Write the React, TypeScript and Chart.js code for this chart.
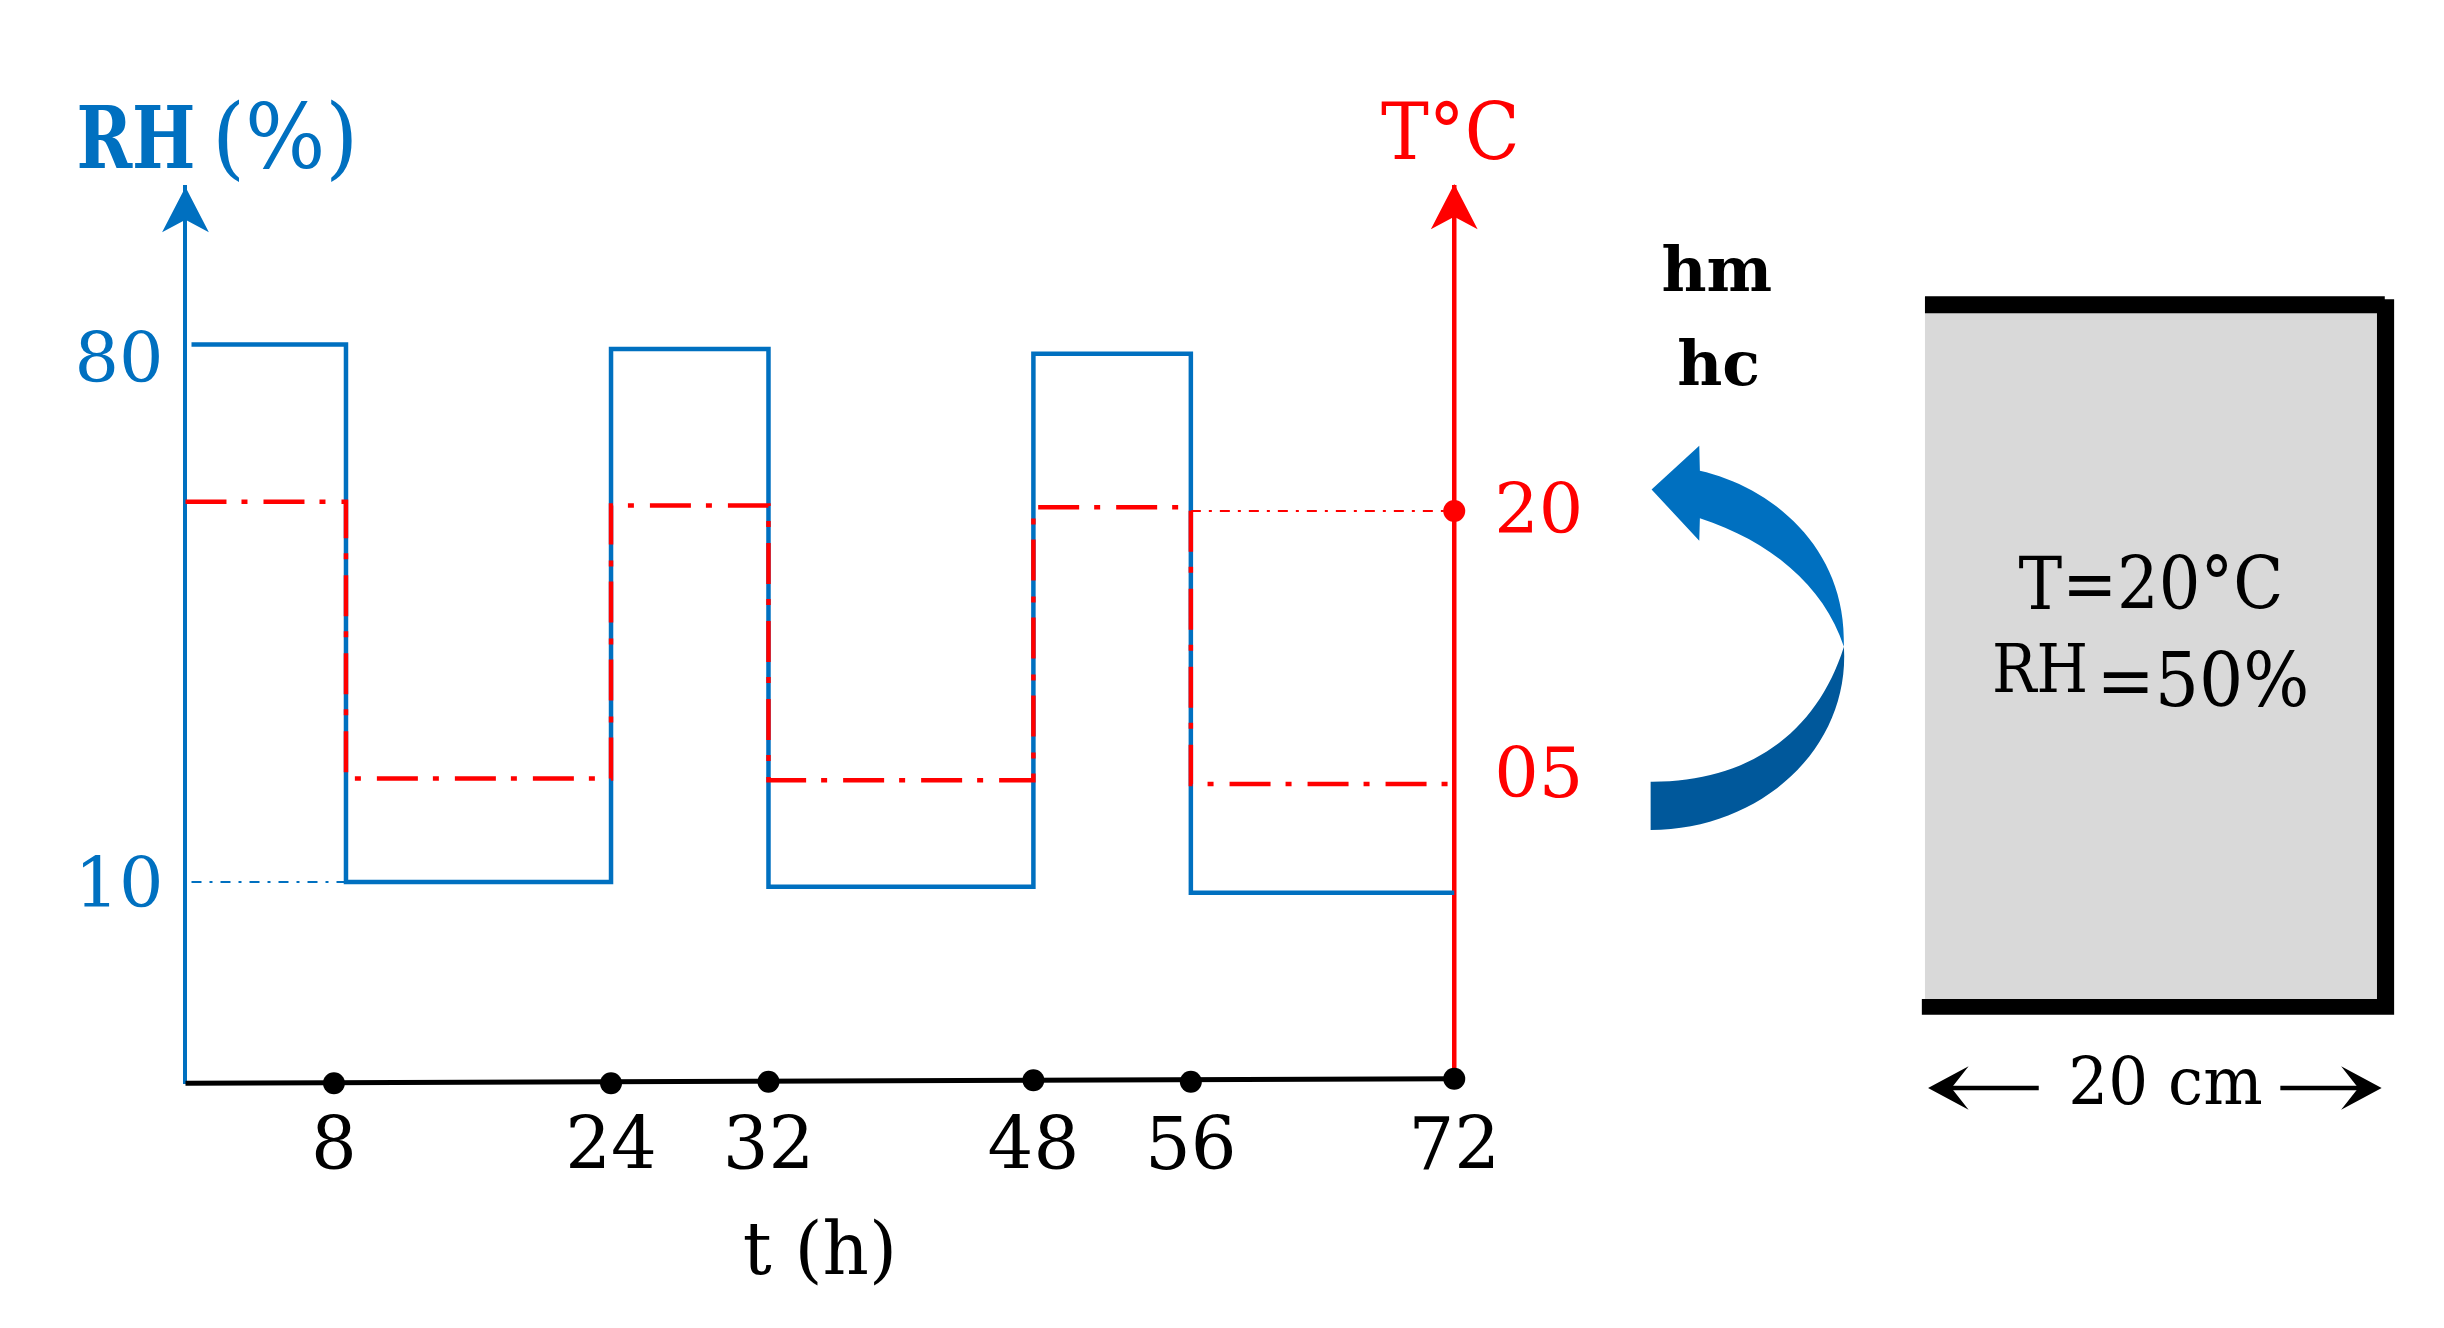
import React, { useEffect, useRef } from "react";
import { Chart, LinearScale, registerables } from "chart.js";

const rhHours = [0.3, 8, 8, 24, 24, 32, 32, 48, 48, 56, 56, 72];
const rhValues = [80, 80, 10, 10, 79.4, 79.4, 9.4, 9.4, 78.8, 78.8, 8.6, 8.6];
const tempHours = [0, 8, 8, 24, 24, 32, 32, 48, 48, 56, 56, 72];
const tempValues = [20.5, 20.5, 5.3, 5.3, 20.3, 20.3, 5.2, 5.2, 20.2, 20.2, 5, 5];

const rhGuideHours = [0.3, 8];
const rhGuideValues = [10, 10];
const tempGuideHours = [56, 72];
const tempGuideValues = [20, 20];

const xRuleHours = [0, 72];
const xRuleValues = [-16.2, -15.6];
const xTickHours = [7.4, 24, 32, 48, 56, 72];
const xTickLabels = ["8", "24", "32", "48", "56", "72"];
const xDotValues = [-16.2, -16.2, -16, -15.8, -16, -15.6];

const rhTickValues = [9.1, 77.5];
const rhTickLabels = ["10", "80"];
const tempTickValues = [5.3, 19.8];
const tempTickLabels = ["05", "20"];

// the time axis in the figure is not to scale: hour -> share of the axis width
const scheduleHours = [0, 8, 24, 32, 48, 56, 72];
const scheduleShares = [0, 0.1265, 0.3354, 0.4595, 0.6683, 0.7924, 1];

const BLUE = "#0070c0";
const DARK_BLUE = "#00589b";
const RED = "#ff0000";
const SERIF = '"DejaVu Serif"';
const K = 2444 / 1568;

class ScheduleScale extends LinearScale {
  static id = "schedule";
  static defaults = LinearScale.defaults;

  getPixelForValue(value: number) {
    let i = 1;
    while (i < scheduleHours.length - 1 && value > scheduleHours[i]) i++;
    const t = (value - scheduleHours[i - 1]) / (scheduleHours[i] - scheduleHours[i - 1]);
    return this.getPixelForDecimal(
      scheduleShares[i - 1] + t * (scheduleShares[i] - scheduleShares[i - 1])
    );
  }
}

Chart.register(...registerables, ScheduleScale);

const points = (xs: number[], ys: number[]) => xs.map((x, i) => ({ x, y: ys[i] }));

// text given in reference coordinates, squeezed to the width it has there
const label = (
  ctx: CanvasRenderingContext2D,
  text: string,
  x: number,
  y: number,
  size: number,
  color: string,
  squeeze = 1,
  weight = "normal"
) => {
  ctx.save();
  ctx.translate(x * K, y * K);
  ctx.scale(squeeze, 1);
  ctx.font = `${weight} ${size}px ${SERIF}`;
  ctx.fillStyle = color;
  ctx.textAlign = "left";
  ctx.textBaseline = "alphabetic";
  ctx.fillText(text, 0, 0);
  ctx.restore();
};

const poly = (ctx: CanvasRenderingContext2D, color: string, pts: number[][]) => {
  ctx.fillStyle = color;
  ctx.beginPath();
  pts.forEach(([x, y], i) => (i ? ctx.lineTo(x * K, y * K) : ctx.moveTo(x * K, y * K)));
  ctx.closePath();
  ctx.fill();
};

const axisArrow = (ctx: CanvasRenderingContext2D, x: number, top: number, color: string) => {
  const xr = x / K;
  const yr = top / K;
  poly(ctx, color, [
    [xr, yr],
    [xr + 15, yr + 29],
    [xr, yr + 21],
    [xr - 15, yr + 29],
  ]);
};

const figurePlugin = {
  id: "figure",
  afterDraw(chart: Chart) {
    const ctx = chart.ctx;
    const { rh, temp } = chart.scales;

    axisArrow(ctx, rh.right, chart.chartArea.top, BLUE);
    axisArrow(ctx, temp.left, chart.chartArea.top - 3, RED);

    label(ctx, "RH", 49, 108, 86, BLUE, 0.78, "bold");
    label(ctx, "(%)", 136, 108, 90, BLUE, 0.94);
    label(ctx, "T°C", 886, 102, 78, RED, 0.92);
    label(ctx, "hm", 1066, 187, 62, "#000", 1, "bold");
    label(ctx, "hc", 1076, 247, 62, "#000", 1, "bold");

    // curved exchange arrow
    ctx.fillStyle = DARK_BLUE;
    ctx.beginPath();
    ctx.moveTo(1183 * K, 415 * K);
    ctx.bezierCurveTo(1187 * K, 480 * K, 1130 * K, 532.5 * K, 1059 * K, 532.5 * K);
    ctx.lineTo(1059 * K, 501.6 * K);
    ctx.bezierCurveTo(1120 * K, 502 * K, 1165 * K, 472 * K, 1183 * K, 415 * K);
    ctx.fill();
    ctx.fillStyle = BLUE;
    ctx.beginPath();
    ctx.moveTo(1090.6 * K, 302 * K);
    ctx.bezierCurveTo(1135 * K, 312 * K, 1185 * K, 350 * K, 1183 * K, 415 * K);
    ctx.bezierCurveTo(1170 * K, 375 * K, 1135 * K, 347 * K, 1090.6 * K, 332.5 * K);
    ctx.lineTo(1090.2 * K, 347 * K);
    ctx.lineTo(1059.6 * K, 314 * K);
    ctx.lineTo(1090.2 * K, 286 * K);
    ctx.closePath();
    ctx.fill();

    // sample wall
    poly(ctx, "#d9d9d9", [
      [1235, 195],
      [1527, 195],
      [1527, 645],
      [1235, 645],
    ]);
    poly(ctx, "#000", [
      [1235, 190],
      [1530, 190],
      [1530, 192],
      [1536, 192],
      [1536, 651],
      [1233, 651],
      [1233, 641],
      [1525, 641],
      [1525, 201],
      [1235, 201],
    ]);
    label(ctx, "T=20°C", 1295, 391, 72, "#000", 0.91);
    label(ctx, "RH", 1278, 444, 68, "#000", 0.87);
    label(ctx, "=50%", 1345, 453, 74, "#000", 0.94);

    // width dimension
    label(ctx, "20 cm", 1327, 708, 66, "#000", 0.95);
    ctx.strokeStyle = "#000";
    ctx.lineWidth = 4.5;
    ctx.beginPath();
    ctx.moveTo(1245 * K, 698 * K);
    ctx.lineTo(1308 * K, 698 * K);
    ctx.moveTo(1463 * K, 698 * K);
    ctx.lineTo(1520 * K, 698 * K);
    ctx.stroke();
    poly(ctx, "#000", [
      [1237, 698],
      [1263, 684],
      [1252, 698],
      [1263, 712],
    ]);
    poly(ctx, "#000", [
      [1528, 698],
      [1502, 684],
      [1513, 698],
      [1502, 712],
    ]);
  },
};

const App: React.FC = () => {
  const canvasRef = useRef<HTMLCanvasElement | null>(null);

  useEffect(() => {
    const ctx = canvasRef.current?.getContext("2d");
    if (!ctx) return;

    // first dataset ends up on top
    const chart = new Chart(ctx, {
      type: "line",
      data: {
        datasets: [
          {
            label: "T mark",
            data: points([72], [20]),
            yAxisID: "temp",
            showLine: false,
            pointRadius: 11,
            pointBackgroundColor: RED,
            pointBorderWidth: 0,
          },
          {
            label: "T (°C)",
            data: points(tempHours, tempValues),
            yAxisID: "temp",
            borderColor: RED,
            borderWidth: 4.5,
            borderDash: [41, 15, 6, 16],
            pointRadius: 0,
          },
          {
            label: "T guide",
            data: points(tempGuideHours, tempGuideValues),
            yAxisID: "temp",
            borderColor: RED,
            borderWidth: 2,
            borderDash: [10, 8, 3, 8],
            pointRadius: 0,
          },
          {
            label: "RH (%)",
            data: points(rhHours, rhValues),
            yAxisID: "rh",
            borderColor: BLUE,
            borderWidth: 4.5,
            pointRadius: 0,
          },
          {
            label: "RH guide",
            data: points(rhGuideHours, rhGuideValues),
            yAxisID: "rh",
            borderColor: BLUE,
            borderWidth: 2,
            borderDash: [10, 8, 3, 8],
            pointRadius: 0,
          },
          {
            label: "x dots",
            data: points(xTickHours, xDotValues),
            yAxisID: "rh",
            showLine: false,
            pointRadius: 11,
            pointBackgroundColor: "#000",
            pointBorderWidth: 0,
          },
          {
            label: "x rule",
            data: points(xRuleHours, xRuleValues),
            yAxisID: "rh",
            borderColor: "#000",
            borderWidth: 5,
            pointRadius: 0,
          },
        ],
      },
      options: {
        responsive: false,
        animation: false,
        devicePixelRatio: 1,
        layout: { padding: { top: 120 * K, left: 0, right: 0, bottom: 0 } },
        plugins: { legend: { display: false }, tooltip: { enabled: false } },
        elements: { line: { tension: 0, fill: false } },
        datasets: { line: { clip: false } },
        scales: {
          x: {
            type: "schedule" as any,
            min: 0,
            max: 72,
            grid: { display: false },
            border: { display: false },
            afterBuildTicks: (s: any) => {
              s.ticks = xTickHours.map((value) => ({ value }));
            },
            afterFit: (s: any) => {
              s.height = 1328 - 695 * K;
            },
            ticks: {
              color: "#000",
              font: { family: SERIF, size: 72 },
              padding: 16,
              maxRotation: 0,
              autoSkip: false,
              callback: (_v: any, i: number) => xTickLabels[i],
            },
            title: {
              display: true,
              text: "t (h)",
              color: "#000",
              font: { family: SERIF, size: 72 },
              padding: { top: 0, bottom: 30 },
            },
          },
          rh: {
            axis: "y",
            position: "left",
            min: -16.2,
            max: 100.5,
            grid: { display: false },
            border: { color: BLUE, width: 4 },
            afterBuildTicks: (s: any) => {
              s.ticks = rhTickValues.map((value) => ({ value }));
            },
            afterFit: (s: any) => {
              s.width = 119 * K;
            },
            ticks: {
              color: BLUE,
              font: { family: SERIF, size: 70 },
              padding: 14,
              callback: (_v: any, i: number) => rhTickLabels[i],
            },
          },
          temp: {
            axis: "y",
            position: "right",
            min: -11.45,
            max: 37.8,
            grid: { display: false },
            border: { color: RED, width: 4.5 },
            afterBuildTicks: (s: any) => {
              s.ticks = tempTickValues.map((value) => ({ value }));
            },
            afterFit: (s: any) => {
              s.width = 2444 - 933 * K;
            },
            ticks: {
              color: RED,
              font: { family: SERIF, size: 70 },
              padding: 32,
              callback: (_v: any, i: number) => tempTickLabels[i],
            },
          },
        } as any,
      },
      plugins: [figurePlugin],
    });

    return () => chart.destroy();
  }, []);

  return (
    <div style={{ position: "absolute", left: 0, top: 0, width: 2444, height: 1328, background: "#fff" }}>
      <canvas ref={canvasRef} width={2444} height={1328} style={{ display: "block" }} />
    </div>
  );
};

export default App;
